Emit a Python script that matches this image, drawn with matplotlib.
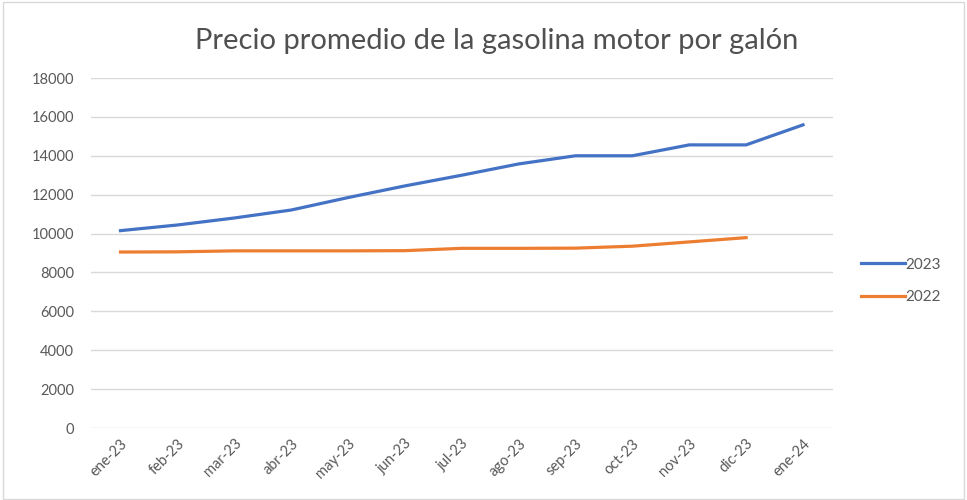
import numpy as np
import matplotlib.pyplot as plt

plt.rcParams['font.family'] = ['Lato', 'DejaVu Sans']

meses = ['ene-23', 'feb-23', 'mar-23', 'abr-23', 'may-23', 'jun-23', 'jul-23',
         'ago-23', 'sep-23', 'oct-23', 'nov-23', 'dic-23', 'ene-24']
precio_2023 = [10150, 10440, 10800, 11210, 11850, 12450, 13000,
               13580, 14000, 14000, 14560, 14560, 15590]
precio_2022 = [9050, 9060, 9110, 9110, 9110, 9120, 9240,
               9240, 9250, 9350, 9570, 9790]
yticks = np.arange(0, 18001, 2000)

fig = plt.figure(figsize=(9.67, 5), dpi=100)
ax = fig.add_axes([0.094, 0.144, 0.767, 0.7])

x = np.arange(len(meses))
ax.plot(x, precio_2023, color='#4472C4', lw=2.3, label='2023')
ax.plot(x[:len(precio_2022)], precio_2022, color='#ED7D31', lw=2.3, label='2022')

ax.set_xlim(-0.52, len(meses) - 0.48)
ax.set_ylim(0, 18000)
ax.set_yticks(yticks)
ax.set_yticklabels([str(v) for v in yticks])
ax.set_xticks(x)
ax.set_xticklabels(meses, rotation=45, ha='right', rotation_mode='anchor')
ax.tick_params(axis='both', length=0, colors='#595959', labelsize=10.5)
ax.tick_params(axis='y', pad=12)
ax.tick_params(axis='x', pad=6)
ax.grid(axis='y', color='#d9d9d9', lw=1)
ax.set_axisbelow(True)
for s in ax.spines.values():
    s.set_visible(False)

fig.suptitle('Precio promedio de la gasolina motor por galón', y=0.945,
             x=0.514, fontsize=21, color='#505050')

leg = ax.legend(loc='center left', bbox_to_anchor=(1.02, 0.42), frameon=False,
                fontsize=11, handlelength=2.9, handletextpad=0.0, labelspacing=1.2,
                labelcolor='#595959')

fig.patches.append(plt.Rectangle((0.003, 0.003), 0.994, 0.994, transform=fig.transFigure,
                                 fill=False, edgecolor='#d9d9d9', lw=1))

fig.savefig('out.png', dpi=100)
